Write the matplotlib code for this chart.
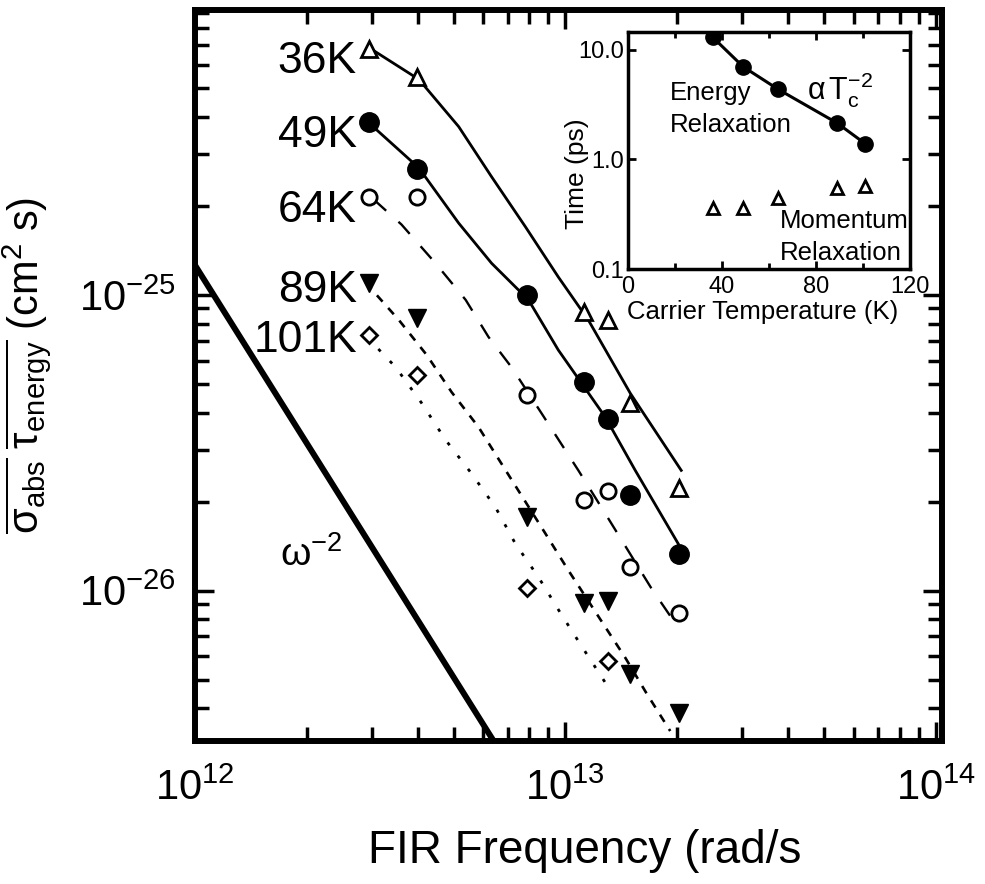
import math
import matplotlib
matplotlib.use('Agg')
import matplotlib.pyplot as plt
from matplotlib.ticker import NullFormatter, FuncFormatter, FixedLocator, FixedFormatter, MultipleLocator, LogLocator

plt.rcParams['font.family'] = ['Liberation Sans', 'DejaVu Sans']
plt.rcParams['mathtext.fontset'] = 'custom'
plt.rcParams['mathtext.rm'] = 'Liberation Sans'
plt.rcParams['mathtext.it'] = 'Liberation Sans:italic'
plt.rcParams['mathtext.bf'] = 'Liberation Sans:bold'

# measured points (rad/s, cm^2 s)
freq = [2.95e12, 3.97e12, 7.9e12, 1.125e13, 1.305e13, 1.49e13, 2.03e13]
freq36 = [2.95e12, 3.97e12, 1.125e13, 1.305e13, 1.49e13, 2.03e13]
y36 = [6.77e-25, 5.44e-25, 8.76e-26, 8.23e-26, 4.31e-26, 2.22e-26]
y49 = [3.86e-25, 2.67e-25, 1.0e-25, 5.07e-26, 3.80e-26, 2.10e-26, 1.33e-26]
y64 = [2.15e-25, 2.15e-25, 4.58e-26, 2.02e-26, 2.18e-26, 1.20e-26, 8.41e-27]
y89 = [1.10e-25, 8.36e-26, 1.77e-26, 9.1e-27, 9.24e-27, 5.24e-27, 3.86e-27]
freq101 = [2.95e12, 3.97e12, 7.9e12, 1.305e13]
y101 = [7.32e-26, 5.36e-26, 1.02e-26, 5.80e-27]

# fitted curves
fit36_x = [3.00e12, 4.02e12, 5.15e12, 6.32e12, 7.80e12, 9.57e12, 1.153e13, 1.497e13, 2.055e13]
fit36_y = [6.77e-25, 5.36e-25, 3.71e-25, 2.51e-25, 1.70e-25, 1.15e-25, 8.23e-26, 4.65e-26, 2.55e-26]
fit49_x = [2.94e12, 4.02e12, 5.15e12, 6.32e12, 7.95e12, 9.57e12, 1.282e13, 1.544e13, 2.017e13]
fit49_y = [3.83e-25, 2.69e-25, 1.75e-25, 1.28e-25, 9.62e-26, 6.51e-26, 3.86e-26, 2.55e-26, 1.44e-26]
fit64_x = [3.04e12, 3.61e12, 4.46e12, 5.38e12, 6.20e12, 7.15e12, 8.62e12, 1.084e13, 1.282e13, 1.705e13, 2.017e13]
fit64_y = [2.10e-25, 1.73e-25, 1.28e-25, 9.62e-26, 7.21e-26, 5.70e-26, 3.98e-26, 2.55e-26, 1.82e-26, 1.02e-26, 7.49e-27]
fit89_x = [2.89e12, 3.55e12, 4.22e12, 4.93e12, 5.83e12, 6.68e12, 8.83e12, 1.019e13, 1.25e13, 1.451e13, 1.653e13, 1.919e13]
fit89_y = [1.10e-25, 8.23e-26, 6.27e-26, 4.69e-26, 3.57e-26, 2.72e-26, 1.56e-26, 1.17e-26, 7.90e-27, 5.93e-27, 4.51e-27, 3.35e-27]
fit101_x = [2.91e12, 3.48e12, 4.09e12, 4.75e12, 5.55e12, 6.48e12, 7.33e12, 8.46e12, 9.69e12, 1.104e13, 1.282e13]
fit101_y = [7.21e-26, 5.70e-26, 4.31e-26, 3.23e-26, 2.51e-26, 1.91e-26, 1.44e-26, 1.11e-26, 8.41e-27, 6.51e-27, 4.88e-27]

# omega^-2 reference line
omega_x = [1e12, 6.4e12]
omega_y = [1.26e-25, 3.1e-27]

temp_labels = ['36K', '49K', '64K', '89K', '101K']

# inset: relaxation times vs carrier temperature
temp = [36, 49, 64, 89, 101]
t_energy = [13.1, 7.03, 4.36, 2.15, 1.39]
t_momentum = [0.36, 0.36, 0.445, 0.55, 0.57]

fig = plt.figure(figsize=(9.85, 8.84), dpi=100)
ax = fig.add_axes([0.198, 0.1618, 0.7584, 0.8269])

ax.plot(omega_x, omega_y, color='k', lw=4.3, solid_capstyle='butt')
ax.plot(fit36_x, fit36_y, color='k', lw=2.0)
ax.plot(fit49_x, fit49_y, color='k', lw=2.0)
ax.plot(fit64_x, fit64_y, color='k', lw=1.7, dashes=(7, 7))
ax.plot(fit89_x, fit89_y, color='k', lw=1.9, dashes=(3.2, 3.2))
ax.plot(fit101_x, fit101_y, color='k', lw=2.0, dashes=(1.2, 4.8))

ax.plot(freq36, y36, ls='none', marker='^', ms=12, mfc='white', mec='k', mew=2)
ax.plot(freq, y49, ls='none', marker='o', ms=14, mfc='k', mec='k')
ax.plot(freq, y64, ls='none', marker='o', ms=11, mfc='white', mec='k', mew=2)
ax.plot(freq, y89, ls='none', marker='v', ms=13, mfc='k', mec='k')
ax.plot(freq101, y101, ls='none', marker='D', ms=8, mfc='white', mec='k', mew=2)

ax.set_xscale('log')
ax.set_yscale('log')
ax.set_xlim(1e12, 1.04e14)
ax.set_ylim(3.1e-27, 9.2e-25)

for s in ax.spines.values():
    s.set_linewidth(4.3)
ax.xaxis.set_major_locator(FixedLocator([1e12, 1e13, 1e14]))
ax.yaxis.set_major_locator(FixedLocator([1e-26, 1e-25]))
ax.xaxis.set_minor_locator(LogLocator(base=10, subs=range(2, 10), numticks=20))
ax.yaxis.set_minor_locator(LogLocator(base=10, subs=range(2, 10), numticks=20))
ax.xaxis.set_minor_formatter(NullFormatter())
ax.yaxis.set_minor_formatter(NullFormatter())
fmt = FuncFormatter(lambda v, p: r'$\mathrm{10^{%d}}$' % round(math.log10(v)))
ax.xaxis.set_major_formatter(fmt)
ax.yaxis.set_major_formatter(fmt)
ax.tick_params(which='both', direction='in', top=True, right=True, width=2.5)
ax.tick_params(which='major', length=14, labelsize=30)
ax.tick_params(which='minor', length=10)
ax.tick_params(axis='x', which='major', pad=20)
ax.tick_params(axis='y', which='major', pad=14)

# temperature labels
label_base = [0.9174, 0.8337, 0.7489, 0.6584, 0.6018]
for lab, yb in zip(temp_labels, label_base):
    fig.text(0.3624, yb, lab, fontsize=32, ha='right', va='baseline')

fig.text(0.316, 0.372, r'$\mathrm{ω}^{-2}$', fontsize=28, ha='center', va='center')
fig.text(0.594, 0.037, 'FIR Frequency (rad/s', fontsize=33, ha='center', va='center')
fig.text(0.028, 0.587, r'$\overline{\mathrm{σ}_{\mathrm{abs}}}\ \overline{\mathrm{τ}_{\mathrm{energy}}}$ (cm$^{2}$ s)',
         fontsize=30, rotation=90, ha='center', va='center')

# inset
ax_in = fig.add_axes([0.6376, 0.6957, 0.2863, 0.2681])
ax_in.plot(temp, t_energy, color='k', lw=2.2, marker='o', ms=11, mfc='k')
ax_in.plot(temp, t_momentum, ls='none', marker='^', ms=9, mfc='white', mec='k', mew=2)
ax_in.set_yscale('log')
ax_in.set_xlim(0, 120)
ax_in.set_ylim(0.1, 14.6)
for s in ax_in.spines.values():
    s.set_linewidth(2.5)
ax_in.xaxis.set_major_locator(MultipleLocator(40))
ax_in.xaxis.set_minor_locator(MultipleLocator(20))
ax_in.yaxis.set_major_locator(FixedLocator([0.1, 1.0, 10.0]))
ax_in.yaxis.set_major_formatter(FixedFormatter(['0.1', '1.0', '10.0']))
ax_in.yaxis.set_minor_locator(FixedLocator([]))
ax_in.tick_params(which='both', direction='in', top=True, right=True, width=2)
ax_in.tick_params(which='major', length=6, labelsize=17, pad=3)
ax_in.tick_params(which='minor', length=4)
ax_in.tick_params(axis='x', pad=5)

fig.text(0.586, 0.804, 'Time (ps)', fontsize=19, rotation=90, ha='center', va='center')
fig.text(0.774, 0.639, 'Carrier Temperature (K)', fontsize=18.5, ha='center', va='baseline')
fig.text(0.680, 0.887, 'Energy', fontsize=18.5, ha='left', va='baseline')
fig.text(0.680, 0.851, 'Relaxation', fontsize=18.5, ha='left', va='baseline')
fig.text(0.792, 0.742, 'Momentum', fontsize=18.5, ha='left', va='baseline')
fig.text(0.792, 0.706, 'Relaxation', fontsize=18.5, ha='left', va='baseline')
fig.text(0.819, 0.887, r'$\mathrm{α}\,\mathrm{T}_{\mathrm{c}}^{-2}$', fontsize=22, ha='left', va='baseline')

fig.savefig('out.png', dpi=100)
